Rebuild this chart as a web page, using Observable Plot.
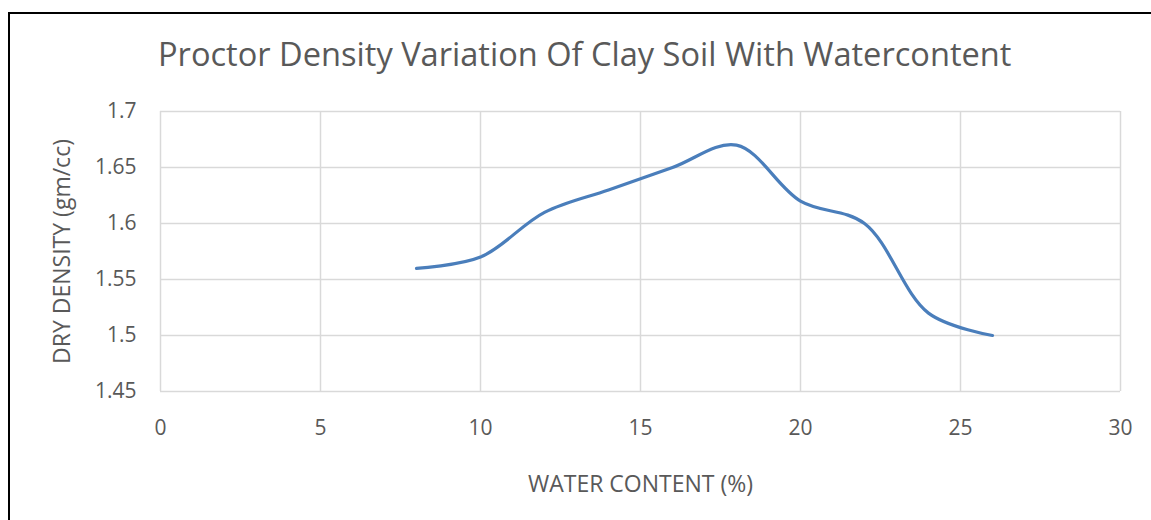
<!DOCTYPE html>
<html>
<head>
<meta charset="utf-8">
<script src="https://cdn.jsdelivr.net/npm/d3@7"></script>
<script src="https://cdn.jsdelivr.net/npm/@observablehq/plot@0.6"></script>
<style>
  html, body { margin: 0; padding: 0; background: #fff; }
  #wrap { position: relative; width: 1151px; height: 520px; overflow: hidden; font-family: "Open Sans", sans-serif; }
  #frame { position: absolute; left: 8px; top: 12px; width: 1200px; height: 600px; border-left: 2px solid #000; border-top: 2px solid #000; box-sizing: border-box; }
  #title { position: absolute; left: 158px; top: 31px; white-space: nowrap; font-size: 32.6px; color: #595959; }
  #chart { position: absolute; left: 0; top: 0; }
</style>
</head>
<body>
<div id="wrap">
  <div id="frame"></div>
  <div id="title">Proctor Density Variation Of Clay Soil With Watercontent</div>
  <div id="chart"></div>
</div>
<script>
const waterContent = [8, 10, 12, 14, 16, 18, 20, 22, 24, 26];
const dryDensity = [1.56, 1.57, 1.61, 1.63, 1.65, 1.67, 1.62, 1.60, 1.52, 1.50];
const xTicks = [0, 5, 10, 15, 20, 25, 30];
const yTicks = [1.45, 1.5, 1.55, 1.6, 1.65, 1.7];
const yTickLabels = ["1.45", "1.5", "1.55", "1.6", "1.65", "1.7"];
const xTitle = "WATER CONTENT (%)";
const yTitle = "DRY DENSITY (gm/cc)";

const data = waterContent.map((w, i) => ({w, d: dryDensity[i]}));

const chart = Plot.plot({
  width: 1151,
  height: 520,
  marginLeft: 160,
  marginRight: 31,
  marginTop: 111,
  marginBottom: 129,
  style: {fontFamily: "'Open Sans', sans-serif", fontSize: "21px", color: "#595959", background: "transparent", overflow: "visible"},
  x: {domain: [0, 30]},
  y: {domain: [1.45, 1.7]},
  marks: [
    Plot.ruleX(xTicks, {stroke: "#d9d9d9", strokeWidth: 1.5, strokeOpacity: 1}),
    Plot.ruleY(yTicks, {stroke: "#d9d9d9", strokeWidth: 1.5, strokeOpacity: 1}),
    Plot.axisX({ticks: xTicks, tickSize: 0, tickPadding: 29, label: null, fill: "#595959", fontSize: 21}),
    Plot.axisY({ticks: yTicks, tickSize: 0, tickPadding: 24, label: null, fill: "#595959", fontSize: 21,
      tickFormat: (d) => yTickLabels[yTicks.findIndex(t => Math.abs(t - d) < 1e-9)]}),
    Plot.line(data, {x: "w", y: "d", curve: "catmull-rom", stroke: "#4a7ebb", strokeWidth: 3.2, strokeLinecap: "round"}),
    Plot.text([xTitle], {frameAnchor: "bottom", dy: 93, fontSize: 23, fill: "#595959", lineAnchor: "middle"}),
    Plot.text([yTitle], {frameAnchor: "left", dx: -98, rotate: -90, fontSize: 23, fill: "#595959", lineAnchor: "middle", textAnchor: "middle"})
  ]
});
document.getElementById("chart").appendChild(chart);
</script>
</body>
</html>
